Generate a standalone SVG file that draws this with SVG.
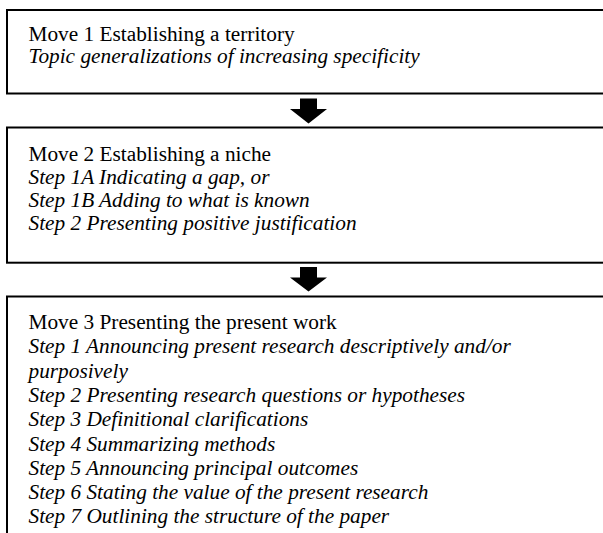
<svg xmlns="http://www.w3.org/2000/svg" width="603" height="533" viewBox="0 0 603 533">
<style>
.box{fill:#fff;stroke:#000;stroke-width:2}
text{font-family:"Liberation Serif","Times New Roman",serif;font-size:21.3px;fill:#000}
.i{font-style:italic}
.arr{fill:#000}
</style>
<rect width="603" height="533" fill="#fff"/>
<g id="move1">
<rect class="box" x="7" y="10" width="610" height="83.5"/>
<text x="28.5" y="41">Move 1 Establishing a territory</text>
<text class="i" x="28.5" y="63">Topic generalizations of increasing specificity</text>
</g>
<g id="move2">
<rect class="box" x="7" y="127.5" width="610" height="135.2"/>
<text x="28.5" y="161">Move 2 Establishing a niche</text>
<text class="i" x="28.5" y="184">Step 1A Indicating a gap, or</text>
<text class="i" x="28.5" y="207">Step 1B Adding to what is known</text>
<text class="i" x="28.5" y="230">Step 2 Presenting positive justification</text>
</g>
<g id="move3">
<rect class="box" x="7" y="296.5" width="610" height="260"/>
<text x="28.5" y="329">Move 3 Presenting the present work</text>
<text class="i" x="28.5" y="353">Step 1 Announcing present research descriptively and/or</text>
<text class="i" x="28.5" y="377.5">purposively</text>
<text class="i" x="28.5" y="402">Step 2 Presenting research questions or hypotheses</text>
<text class="i" x="28.5" y="426">Step 3 Definitional clarifications</text>
<text class="i" x="28.5" y="450.5">Step 4 Summarizing methods</text>
<text class="i" x="28.5" y="475">Step 5 Announcing principal outcomes</text>
<text class="i" x="28.5" y="499">Step 6 Stating the value of the present research</text>
<text class="i" x="28.5" y="523">Step 7 Outlining the structure of the paper</text>
</g>
<g id="connectors">
<polygon class="arr" points="300,98.5 317,98.5 317,109 327,109 308.5,123.5 290,109 300,109"/>
<polygon class="arr" points="300,267 317,267 317,277.5 327,277.5 308.5,291.5 290,277.5 300,277.5"/>
</g>
</svg>
